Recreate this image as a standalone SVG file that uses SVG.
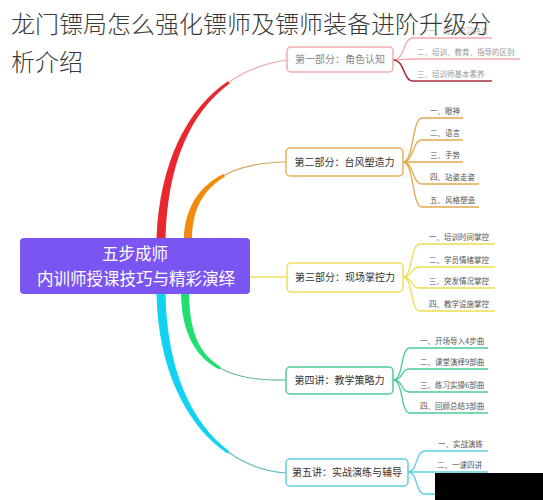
<svg xmlns="http://www.w3.org/2000/svg" width="543" height="500" viewBox="0 0 543 500">
<style>
.title{font-family:"Noto Sans CJK SC","Noto Sans",sans-serif;font-size:24px;font-weight:300;fill:#3a3a3a}
.ctr{font-family:"Noto Sans CJK SC",sans-serif;font-size:16.5px;fill:#fff;text-anchor:middle}
.nt{font-family:"Noto Sans CJK SC",sans-serif;font-size:10px;fill:#333;text-anchor:middle}
.ct{font-family:"Noto Sans CJK SC",sans-serif;font-size:7.5px;fill:#555}
.box{fill:#fff;stroke-width:1.5}
.sub{fill:none;stroke-width:1.3}
</style>
<rect width="543" height="500" fill="#fff"/>
<g id="connectors">
  <path d="M161,238 C165,130 215,70 287,60" fill="none" stroke="#f2a7a7" stroke-width="1.2"/>
  <path d="M188,238 C189,190 222,163 286,162" fill="none" stroke="#d8a860" stroke-width="1.2"/>
  <path d="M250,277 L287,277" fill="none" stroke="#eee060" stroke-width="1.5"/>
  <path d="M185,294 C186,355 215,382 286,380" fill="none" stroke="#60b898" stroke-width="1.2"/>
  <path d="M161,294 C163,400 215,468 286,473" fill="none" stroke="#60b8c8" stroke-width="1.2"/>
  <path d="M156.5,238 C159.8,162.3 187.2,108.7 227.9,81.2 L229.7,83.6 C191,111.9 167.8,162.4 165.5,238 Z" fill="#e8282e"/>
  <path d="M184,238 C184.6,209.2 198.8,186 223.5,174.1 L224.9,176.7 C202.6,190 192.6,209.2 192,238 Z" fill="#f28a0c"/>
  <path d="M181,294 C181.6,330.6 194.3,356.8 219.4,369.5 L220.8,366.9 C198.3,353.2 189.6,330.6 189,294 Z" fill="#22e070"/>
  <path d="M156.5,294 C157.9,368.2 186.1,425.5 227.2,453.4 L229,451 C190.5,422.1 166.9,368.2 165.5,294 Z" fill="#12d2f2"/>
  <g stroke="#f2a9ae" class="sub">
    <path d="M393,60 C405,60 403,38 413,38 L492,38"/>
    <path d="M393,60 C405,60 403,59 413,59 L520,59"/>
  </g>
  <path d="M393,60 C405,60 403,81 413,81 L492,81" fill="none" stroke="#a8303c" stroke-width="1.6"/>
  <g stroke="#e2a850" class="sub">
    <path d="M403,162 C414,162 412,118 422,118 L463,118"/>
    <path d="M403,162 C414,162 412,140 422,140 L463,140"/>
    <path d="M403,162 C414,162 412,162 422,162 L463,162"/>
    <path d="M403,162 C414,162 412,184 422,184 L479,184"/>
    <path d="M403,162 C414,162 412,207 422,207 L479,207"/>
  </g>
  <g stroke="#ece050" class="sub">
    <path d="M403,277 C413,277 410,244 420,244 L495,244"/>
    <path d="M403,277 C413,277 410,267 420,267 L495,267"/>
    <path d="M403,277 C413,277 410,288 420,288 L495,288"/>
    <path d="M403,277 C413,277 410,311 420,311 L495,311"/>
  </g>
  <g stroke="#48cc94" class="sub">
    <path d="M393,380 C404,380 400,348 410,348 L488,348"/>
    <path d="M393,380 C404,380 400,369 410,369 L488,369"/>
    <path d="M393,380 C404,380 400,392 410,392 L488,392"/>
    <path d="M393,380 C404,380 400,413 410,413 L488,413"/>
  </g>
  <g stroke="#5cd2e2" class="sub">
    <path d="M408,472 C418,472 415,451 425,451 L488,451"/>
    <path d="M408,472 C418,472 415,472 425,472 L488,472"/>
    <path d="M408,472 C418,472 415,494 425,494 L488,494"/>
  </g>
</g>
<g id="center">
  <rect x="20" y="238" width="230" height="56" rx="4" fill="#7b55f2"/>
  <text class="ctr" x="135" y="260">五步成师</text>
  <text class="ctr" x="136" y="285">内训师授课技巧与精彩演绎</text>
</g>
<g id="node1">
  <rect class="box" x="287" y="47" width="106" height="25" rx="4" stroke="#f2acac"/>
  <text class="nt" x="340" y="63" style="fill:#888">第一部分：角色认知</text>
  <text class="ct" x="428" y="34" style="fill:#aaa">一、成人学习特点</text>
  <text class="ct" x="417" y="55" style="fill:#999">二、培训、教育、指导的区别</text>
  <text class="ct" x="417" y="77" style="fill:#999">三、培训师基本素养</text>
</g>
<g id="node2">
  <rect class="box" x="286" y="148" width="117" height="28" rx="4" stroke="#e6b060"/>
  <text class="nt" x="344.5" y="165.5">第二部分：台风塑造力</text>
  <text class="ct" x="430" y="114">一、眼神</text>
  <text class="ct" x="430" y="136">二、语言</text>
  <text class="ct" x="430" y="158">三、手势</text>
  <text class="ct" x="430" y="180">四、站姿走姿</text>
  <text class="ct" x="430" y="203">五、风格塑造</text>
</g>
<g id="node3">
  <rect class="box" x="287" y="263" width="116" height="29" rx="4" stroke="#ede060"/>
  <text class="nt" x="345" y="281">第三部分：现场掌控力</text>
  <text class="ct" x="429" y="240">一、培训时间掌控</text>
  <text class="ct" x="429" y="263">二、学员情绪掌控</text>
  <text class="ct" x="429" y="284">三、突发情况掌控</text>
  <text class="ct" x="429" y="307">四、教学设施掌控</text>
</g>
<g id="node4">
  <rect class="box" x="286" y="367" width="107" height="27" rx="4" stroke="#50cc94"/>
  <text class="nt" x="339.5" y="384">第四讲：教学策略力</text>
  <text class="ct" x="420" y="344">一、开场导入4步曲</text>
  <text class="ct" x="420" y="365">二、课堂演绎9部曲</text>
  <text class="ct" x="420" y="388">三、练习实操6部曲</text>
  <text class="ct" x="420" y="409">四、回顾总结3部曲</text>
</g>
<g id="node5">
  <rect class="box" x="286" y="459" width="122" height="27" rx="4" stroke="#62d0e0"/>
  <text class="nt" x="347" y="476">第五讲：实战演练与辅导</text>
  <text class="ct" x="438" y="447">一、实战演练</text>
  <text class="ct" x="437" y="468">二、一课四讲</text>
</g>
<rect x="435" y="473" width="108" height="27" fill="#000"/>
<g id="title">
  <text class="title" x="11" y="33">龙门镖局怎么强化镖师及镖师装备进阶升级分</text>
  <text class="title" x="11" y="71">析介绍</text>
</g>
</svg>
